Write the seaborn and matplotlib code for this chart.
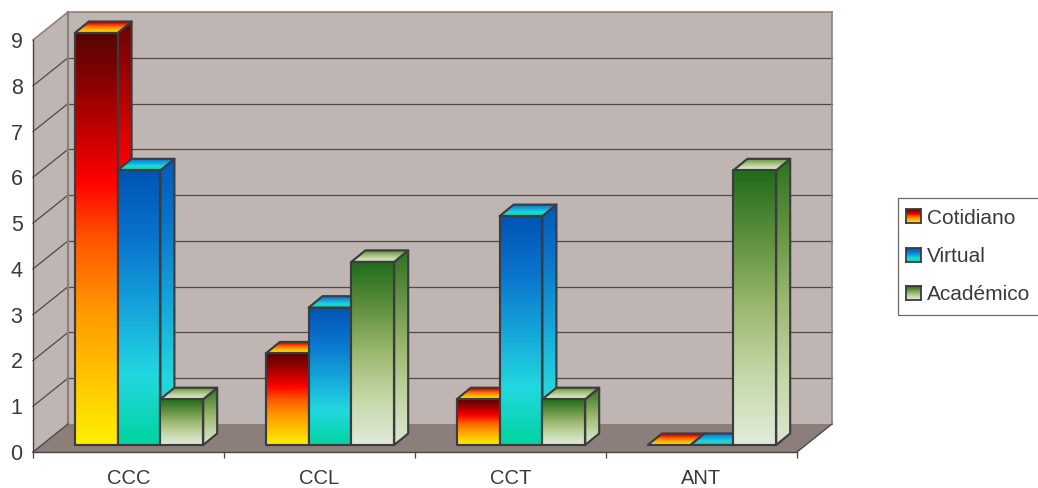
import numpy as np
import pandas as pd
import seaborn as sns
import matplotlib
matplotlib.use("Agg")
import matplotlib.pyplot as plt
from matplotlib.colors import LinearSegmentedColormap
from matplotlib.patches import Patch, Polygon
from matplotlib.transforms import IdentityTransform

# Data
categories = ["CCC", "CCL", "CCT", "ANT"]
cotidiano = [9, 2, 1, 0]
virtual = [6, 3, 5, 0]
academico = [1, 4, 1, 6]
series_names = ["Cotidiano", "Virtual", "Académico"]

# Vertical gradients for each series, listed from the top of a bar to its base
gradients = {
    "Cotidiano": [(0.0, "#560404"), (0.12, "#8a0202"), (0.25, "#c80000"), (0.36, "#ff0000"),
                  (0.50, "#ff5500"), (0.68, "#ff9a00"), (0.85, "#ffc800"), (1.0, "#fff000")],
    "Virtual": [(0.0, "#0054b4"), (0.25, "#0a74cc"), (0.50, "#15a4da"),
                (0.75, "#22d8e0"), (1.0, "#00d4a0")],
    "Académico": [(0.0, "#1f6b1a"), (0.25, "#5f9040"), (0.50, "#9cb870"),
                  (0.75, "#c4d8a8"), (1.0, "#e2ebda")],
}
cmaps = {k: LinearSegmentedColormap.from_list(k, v) for k, v in gradients.items()}

WALL = "#bfb5b2"
FLOOR = "#8c7f7b"
BORDER = "#8c807c"
GRID = "#50494a"
EDGE = "#3c3c3e"
TEXT = "#3a3a3a"

sns.set_theme(style="white")
plt.rcParams["font.family"] = ["Liberation Sans", "DejaVu Sans"]

fig = plt.figure(figsize=(10.38, 4.88), dpi=100, facecolor="white")
ax = fig.add_axes([33 / 1038, (488 - 452) / 488, 764 / 1038, 412 / 488])

df = pd.DataFrame({
    "categoria": categories * 3,
    "contexto": np.repeat(series_names, 4),
    "valor": cotidiano + virtual + academico,
})
sns.barplot(data=df, x="categoria", y="valor", hue="contexto", hue_order=series_names,
            order=categories, width=0.672, gap=0, saturation=1, legend=False, ax=ax,
            palette=["#ff0000", "#15a0d8", "#9cb870"], errorbar=None)
ax.set_xlim(-0.5, 3.5)
ax.set_ylim(0, 9)
ax.set_autoscale_on(False)
ax.patch.set_visible(False)
ax.set_xlabel("")
ax.set_ylabel("")

to_px = ax.transData.transform
ident = IdentityTransform()

# Depth of the room and of each bar, plus the bars' inset from the front plane (pixels)
room = np.array([35.0, 28.0])
bar_depth = np.array([14.0, 11.5])
bar_inset = np.array([10.5, 7.0])


def poly(points, **kw):
    p = Polygon(np.array(points), closed=True, transform=ident, clip_on=False, **kw)
    ax.add_patch(p)
    return p


def line(a, b, color, lw, z=1):
    ax.plot([a[0], b[0]], [a[1], b[1]], transform=ident, color=color, lw=lw,
            clip_on=False, zorder=z, solid_capstyle="projecting")


# Room: floor, back wall and side wall
x0, x1 = -0.5, 3.5
fl, fr = to_px((x0, 0)), to_px((x1, 0))
tl = to_px((x0, 9))
poly([tl + room, to_px((x1, 9)) + room, fr + room, fl + room], fc=WALL, ec="none", zorder=0.1)
poly([fl, tl, tl + room, fl + room], fc=WALL, ec="none", zorder=0.1)
poly([fl, fr, fr + room, fl + room], fc=FLOOR, ec="none", zorder=0.2)

for v in range(1, 9):
    a, b = to_px((x0, v)), to_px((x1, v))
    line(a, a + room, GRID, 0.9)
    line(a + room, b + room, GRID, 0.9)
line(tl, tl + room, BORDER, 1.2)
line(tl + room, to_px((x1, 9)) + room, BORDER, 1.2)
line(fl + room, tl + room, BORDER, 1.6)
line(fr + room, to_px((x1, 9)) + room, BORDER, 1.2)
line(fl, fl + room, GRID, 1.0)
line(fr, fr + room, GRID, 1.0)


def fill_gradient(points, cmap, low=0.0, high=1.0, z=2.0):
    """Paint a vertical gradient inside a polygon given in pixels."""
    pts = np.array(points)
    clip = Polygon(pts, closed=True, transform=ident)
    grad = np.linspace(low, high, 256)[:, None]
    im = ax.imshow(grad, cmap=cmap, vmin=0, vmax=1, aspect="auto", origin="upper",
                   extent=(pts[:, 0].min(), pts[:, 0].max(), pts[:, 1].min(), pts[:, 1].max()),
                   transform=ident, zorder=z, interpolation="bilinear")
    im.set_clip_box(fig.bbox)
    im.set_clip_path(clip)
    poly(pts, fc="none", ec=EDGE, lw=1.55, joinstyle="round", zorder=z + 0.01)


# Extrude every bar drawn by seaborn, working from left to right so nearer faces overlap
z = 2.0
for i in range(len(categories)):
    for name, container in zip(series_names, ax.containers):
        bar = container[i]
        bar.set_visible(False)
        left, right = bar.get_x(), bar.get_x() + bar.get_width()
        h = bar.get_height()
        bl = to_px((left, 0)) + bar_inset
        br = to_px((right, 0)) + bar_inset
        tr = to_px((right, h)) + bar_inset
        tlb = to_px((left, h)) + bar_inset
        cmap = cmaps[name]
        if h > 0:
            fill_gradient([br, tr, tr + bar_depth, br + bar_depth], cmap, 0.05, 0.95, z)
        fill_gradient([tlb, tr, tr + bar_depth, tlb + bar_depth], cmap, 0.2, 1.0, z + 0.1)
        if h > 0:
            fill_gradient([bl, br, tr, tlb], cmap, 0.0, 1.0, z + 0.2)
        z += 1

# Axes furniture
for s in ("top", "right"):
    ax.spines[s].set_visible(False)
for s in ("left", "bottom"):
    ax.spines[s].set_color("#444444")
    ax.spines[s].set_linewidth(1.0)
    ax.spines[s].set_zorder(1.5)

ax.set_yticks(range(10))
ax.tick_params(axis="y", length=0, pad=7.5, labelsize=15.5, labelcolor=TEXT)
ax.set_xticks(np.arange(-0.5, 4.0))
ax.set_xticklabels([])
ax.set_xticks(range(4), categories, minor=True)
ax.tick_params(axis="x", which="major", bottom=True, length=4.5, width=0.9,
               color="#444444", direction="out")
ax.tick_params(axis="x", which="minor", bottom=False, length=0, pad=12.5, labelsize=14.5,
               labelcolor=TEXT)

# Legend with gradient swatches
handles = [Patch(fc="none", ec="none", label=n) for n in series_names]
leg = fig.legend(handles=handles, loc="center left", bbox_to_anchor=(898 / 1038, (488 - 256.5) / 488),
                 fontsize=15, labelspacing=0.93, handlelength=0.72, handleheight=0.64,
                 handletextpad=0.18, borderpad=0.5, borderaxespad=0, fancybox=False, framealpha=1,
                 edgecolor="#6a6a6a", facecolor="white", labelcolor=TEXT)
leg.get_frame().set_linewidth(0.9)
fig.canvas.draw()
for h, name in zip(leg.legend_handles, series_names):
    bb = h.get_window_extent()
    sw = fig.add_axes([(bb.x0 - 2.5) / 1038, bb.y0 / 488, bb.width / 1038, bb.height / 488], zorder=10)
    sw.imshow(np.linspace(0, 1, 64)[:, None], cmap=cmaps[name], vmin=0, vmax=1, aspect="auto")
    sw.set_xticks([])
    sw.set_yticks([])
    for s in sw.spines.values():
        s.set_visible(True)
        s.set_color(EDGE)
        s.set_linewidth(1.3)

fig.savefig("out.png", dpi=100)
